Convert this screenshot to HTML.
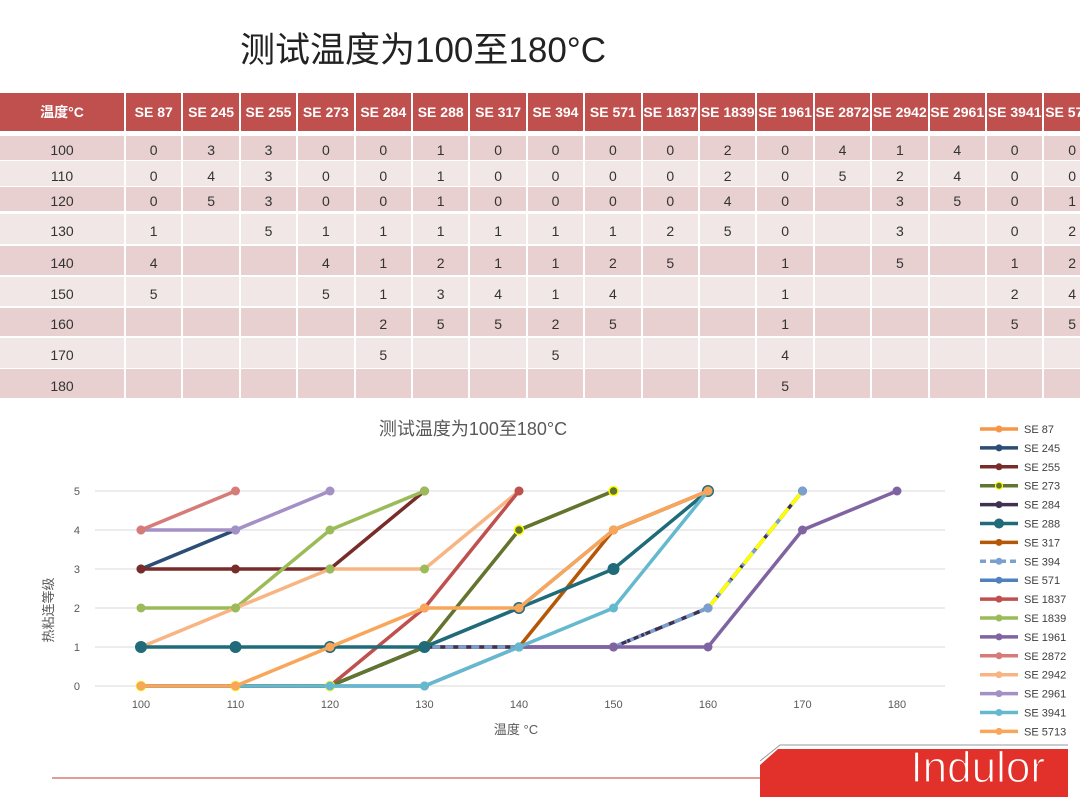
<!DOCTYPE html>
<html><head><meta charset="utf-8"><style>
body{margin:0;width:1080px;height:806px;background:#fff;overflow:hidden;position:relative;font-family:"Liberation Sans","Noto Sans CJK SC",sans-serif}
.t{position:absolute;left:240px;top:22px;font-size:35px;color:#222;white-space:nowrap}
.c{position:absolute;display:flex;align-items:center;justify-content:center;font-size:14px;color:#333}
.h{background:#c0504d;color:#fff;font-weight:bold;font-size:14px}
</style></head><body>
<div class="t">测试温度为100至180°C</div>
<div id="tb"></div>
<svg width="1080" height="806" style="position:absolute;left:0;top:0" id="sv"></svg>
<script>
var cols=["温度°C","SE 87","SE 245","SE 255","SE 273","SE 284","SE 288","SE 317","SE 394","SE 571","SE 1837","SE 1839","SE 1961","SE 2872","SE 2942","SE 2961","SE 3941","SE 5713"];
var rows=[["100","0","3","3","0","0","1","0","0","0","0","2","0","4","1","4","0","0"],
["110","0","4","3","0","0","1","0","0","0","0","2","0","5","2","4","0","0"],
["120","0","5","3","0","0","1","0","0","0","0","4","0","","3","5","0","1"],
["130","1","","5","1","1","1","1","1","1","2","5","0","","3","","0","2"],
["140","4","","","4","1","2","1","1","2","5","","1","","5","","1","2"],
["150","5","","","5","1","3","4","1","4","","","1","","","","2","4"],
["160","","","","","2","5","5","2","5","","","1","","","","5","5"],
["170","","","","","5","","","5","","","","4","","","","",""],
["180","","","","","","","","","","","","5","","","","",""]];
var ry=[[136,24],[161,25],[187,24],[214,30],[246,29],[277,29],[308,28],[338,30],[369,29]];
var h="";
function cx(i){return i==0?[0,124]:[126+(i-1)*57.4,55.4];}
for(var i=0;i<cols.length;i++){var x=cx(i);h+='<div class="c h" style="left:'+x[0]+'px;top:93px;width:'+x[1]+'px;height:38px">'+cols[i]+'</div>';}
for(var r=0;r<9;r++){var bg=r%2==0?"#e8cfd0":"#f2e7e7";for(var i=0;i<cols.length;i++){var x=cx(i);h+='<div class="c" style="left:'+x[0]+'px;top:'+ry[r][0]+'px;width:'+x[1]+'px;height:'+ry[r][1]+'px;background:'+bg+';padding-top:4px;box-sizing:border-box">'+rows[r][i]+'</div>';}}
document.getElementById("tb").innerHTML=h;
var s="";
function X(t){return 141+(t-100)*9.45}function Y(v){return 686-v*39}
s+='<text x="473" y="435" font-size="18" fill="#595959" text-anchor="middle">测试温度为100至180°C</text>';
for(var v=0;v<=5;v++){s+='<line x1="95" x2="945" y1="'+Y(v)+'" y2="'+Y(v)+'" stroke="#d9d9d9"/>';s+='<text x="80" y="'+(Y(v)+4)+'" font-size="11" fill="#595959" text-anchor="end">'+v+'</text>';}
for(var t=100;t<=180;t+=10)s+='<text x="'+X(t)+'" y="708" font-size="11" fill="#595959" text-anchor="middle">'+t+'</text>';
s+='<text x="516" y="734" font-size="13" fill="#595959" text-anchor="middle">温度 °C</text>';
s+='<text transform="translate(53,610) rotate(-90)" font-size="13" fill="#595959" text-anchor="middle">热粘连等级</text>';
var S=[
["SE 87","#f79646",[0,0,0,1,4,5],4,0],
["SE 245","#2c4d75",[3,4],4,0],
["SE 255","#772c2a",[3,3,3,5],4,0],
["SE 273","#5f7530",[0,0,0,1,4,5],4,0],
["SE 284","#403152",[0,0,0,1,1,1,2,5],4,0],
["SE 288","#1f6b7a",[1,1,1,1,2,3,5],6,0],
["SE 317","#b65708",[0,0,0,1,1,4,5],4,0],
["SE 394","#7ba0d0",[0,0,0,1,1,1,2,5],4,1],
["SE 571","#4f81bd",[0,0,0,1,2,4,5],4,0],
["SE 1837","#c0504d",[0,0,0,2,5],4,0],
["SE 1839","#9bbb59",[2,2,4,5],4,0],
["SE 1961","#8064a2",[0,0,0,0,1,1,1,4,5],4,0],
["SE 2872","#d67b77",[4,5],4,0],
["SE 2942","#f8b584",[1,2,3,3,5],4,0,"#9bbb59"],
["SE 2961","#a390c4",[4,4,5],4,0],
["SE 3941","#65b9cf",[0,0,0,0,1,2,5],4,0],
["SE 5713","#f9a65a",[0,0,1,2,2,4,5],4,0]];
var order=[0,8,6,4,7,11,1,2,14,12,10,13,9,3,5,15,16];
order.forEach(function(k){var d=S[k],p=d[2].map(function(v,i){return X(100+i*10)+","+Y(v)}).join(" ");
s+='<polyline points="'+p+'" fill="none" stroke="'+d[1]+'" stroke-width="3.5"'+(d[4]?' stroke-dasharray="8 5"':'')+'/>';
if(k==7){s+='<polyline points="'+X(150)+','+Y(1)+' '+X(160)+','+Y(2)+'" fill="none" stroke="#403152" stroke-width="3.5" stroke-dasharray="3 12"/>';
s+='<polyline points="'+X(160)+','+Y(2)+' '+X(170)+','+Y(5)+'" fill="none" stroke="#ffff00" stroke-width="3.5" stroke-dasharray="14 5"/>';}
d[2].forEach(function(v,i){var f=d[5]||d[1];var extra=k==3?' stroke="#ffff00" stroke-width="1.5"':'';
s+='<circle cx="'+X(100+i*10)+'" cy="'+Y(v)+'" r="'+(k==5?6:4.5)+'" fill="'+f+'"'+extra+'/>';});});
for(var i=0;i<17;i++){var y=429+i*18.9,d=S[i];
s+='<line x1="980" x2="1018" y1="'+y+'" y2="'+y+'" stroke="'+d[1]+'" stroke-width="3.5"'+(d[4]?' stroke-dasharray="6 4"':'')+'/><circle cx="999" cy="'+y+'" r="'+(i==5?5:3.5)+'" fill="'+d[1]+'"'+(i==3?' stroke="#ffff00" stroke-width="1.2"':'')+'/>';
s+='<text x="1024" y="'+(y+4)+'" font-size="11" fill="#404040">'+d[0]+'</text>';}
s+='<line x1="52" x2="762" y1="778" y2="778" stroke="#c0392b" stroke-width="1"/>';
s+='<polyline points="760,761 780,745 1068,745" fill="none" stroke="#999" stroke-width="1"/>';
s+='<polygon points="760,765 778,749 1068,749 1068,797 760,797" fill="#e2312a"/>';
s+='<text x="1045" y="782" font-size="44" font-weight="100" fill="#fff" stroke="#e2312a" stroke-width="1.2" text-anchor="end" font-family="Liberation Sans,sans-serif">Indulor</text>';
document.getElementById("sv").innerHTML=s;
</script>
</body></html>
